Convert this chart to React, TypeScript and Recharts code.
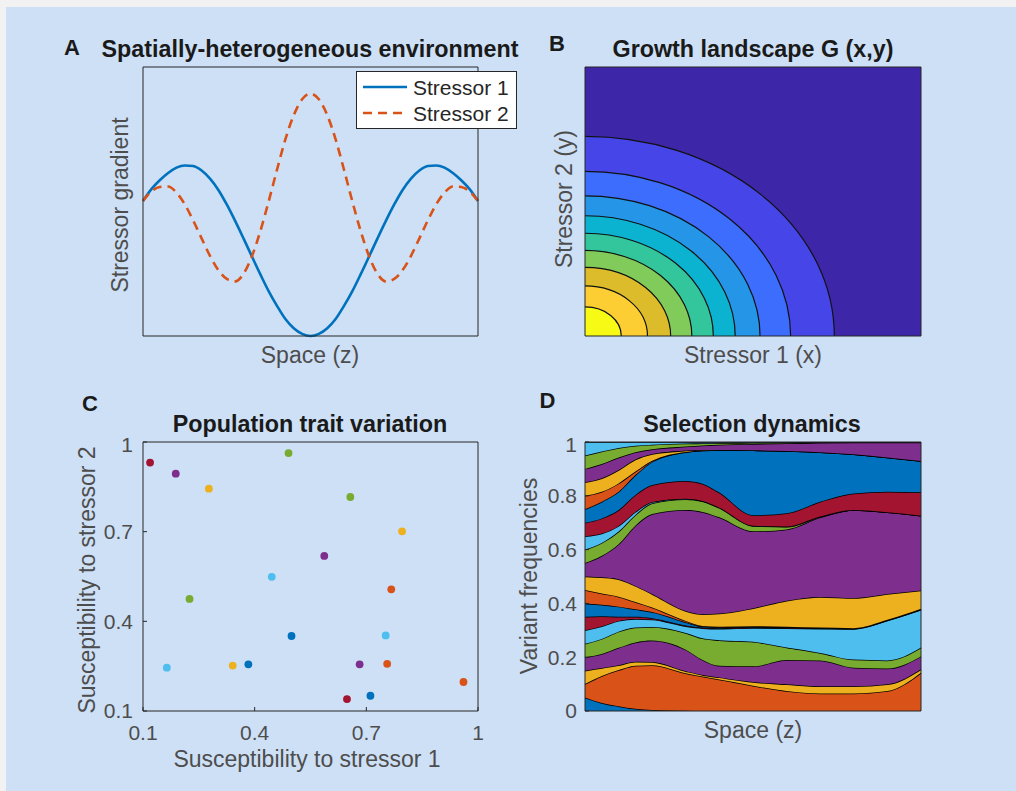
import React from "react";
import {
  LineChart,
  Line,
  AreaChart,
  Area,
  ScatterChart,
  Scatter,
  ComposedChart,
  XAxis,
  YAxis,
  ReferenceArea,
} from "recharts";

// MATLAB default colour order, shared by every panel
const palette = ["#0072BD", "#D95319", "#EDB120", "#7E2F8E", "#77AC30", "#4DBEEE", "#A2142F"];
const FONT = "'Liberation Sans', Arial, Helvetica, sans-serif";
const AXIS = "#262626";
const LABEL = "#4d4d4d";

// ---- A: stressor profiles along space ----
const space = [
  0, 0.025, 0.05, 0.075, 0.1, 0.125, 0.15, 0.175, 0.2, 0.225, 0.25, 0.275, 0.3, 0.325, 0.35, 0.375, 0.4,
  0.425, 0.45, 0.475, 0.5, 0.525, 0.55, 0.575, 0.6, 0.625, 0.65, 0.675, 0.7, 0.725, 0.75, 0.775, 0.8,
  0.825, 0.85, 0.875, 0.9, 0.925, 0.95, 0.975, 1,
];
const stressor1 = [
  0.502, 0.546, 0.579, 0.606, 0.626, 0.634, 0.632, 0.615, 0.585, 0.543, 0.489, 0.428, 0.363, 0.296, 0.23,
  0.167, 0.112, 0.063, 0.029, 0.008, 0.0, 0.008, 0.029, 0.063, 0.112, 0.167, 0.23, 0.296, 0.363, 0.428,
  0.489, 0.543, 0.585, 0.615, 0.632, 0.634, 0.626, 0.606, 0.579, 0.546, 0.502,
];
const stressor2 = [
  0.502, 0.537, 0.554, 0.556, 0.533, 0.489, 0.429, 0.363, 0.298, 0.245, 0.212, 0.203, 0.231, 0.296, 0.389,
  0.5, 0.618, 0.731, 0.821, 0.88, 0.901, 0.88, 0.821, 0.731, 0.618, 0.5, 0.389, 0.296, 0.231, 0.203, 0.212,
  0.245, 0.298, 0.363, 0.429, 0.489, 0.533, 0.556, 0.554, 0.537, 0.502,
];
const stressorNames = ["Stressor 1", "Stressor 2"];

// ---- B: growth contour levels (radius in stressor space), outer to inner ----
const contourRadii = [0.742, 0.612, 0.521, 0.447, 0.382, 0.318, 0.255, 0.186, 0.108];
const parula = [
  "#3e26a8", "#4646e8", "#3c6dfd", "#2595e8", "#0bb3d1", "#33c69c", "#81cb5a", "#dcbc2b", "#fcce33", "#f6fa14",
];

// ---- C: susceptibility of each variant to both stressors ----
const traitVariant = [7, 4, 3, 5, 12, 10, 11, 6, 2, 19, 1, 13, 20, 17, 8, 18, 9, 16, 14, 15];
const traitS1 = [
  0.119, 0.188, 0.277, 0.491, 0.657, 0.796, 0.587, 0.446, 0.767, 0.225, 0.499, 0.752, 0.164, 0.341, 0.383,
  0.682, 0.756, 0.961, 0.648, 0.711,
];
const traitS2 = [
  0.931, 0.894, 0.844, 0.963, 0.816, 0.701, 0.619, 0.549, 0.507, 0.475, 0.351, 0.353, 0.245, 0.252, 0.256,
  0.256, 0.258, 0.197, 0.14, 0.151,
];

// ---- D: variant frequencies along space (one list per variant, bottom to top) ----
const selZ = [0, 0.05, 0.1, 0.15, 0.2, 0.3, 0.35, 0.4, 0.5, 0.6, 0.7, 0.8, 0.9, 1];
const variantFreqs = [
  [0.05, 0.03, 0.018, 0.008, 0.004, 0.001, 0, 0, 0, 0, 0, 0, 0, 0],
  [0.05, 0.1, 0.134, 0.16, 0.166, 0.139, 0.128, 0.117, 0.094, 0.074, 0.065, 0.065, 0.074, 0.142],
  [0.05, 0.03, 0.018, 0.015, 0.012, 0.008, 0.006, 0.008, 0.014, 0.025, 0.027, 0.027, 0.025, 0.013],
  [0.05, 0.052, 0.065, 0.072, 0.08, 0.08, 0.056, 0.043, 0.058, 0.091, 0.096, 0.069, 0.059, 0.048],
  [0.05, 0.056, 0.06, 0.055, 0.05, 0.062, 0.08, 0.095, 0.091, 0.046, 0.028, 0.03, 0.03, 0.033],
  [0.05, 0.047, 0.04, 0.032, 0.028, 0.025, 0.038, 0.043, 0.052, 0.072, 0.09, 0.114, 0.148, 0.14],
  [0.05, 0.037, 0.015, 0.008, 0.005, 0.003, 0.002, 0.002, 0.002, 0.002, 0.002, 0.001, 0.001, 0.001],
  [0.05, 0.043, 0.038, 0.028, 0.023, 0.012, 0.004, 0.003, 0.002, 0.002, 0.001, 0.001, 0.001, 0.001],
  [0.05, 0.042, 0.037, 0.027, 0.017, 0.005, 0.002, 0.002, 0.002, 0.001, 0.001, 0.001, 0.001, 0.002],
  [0.05, 0.06, 0.065, 0.06, 0.05, 0.037, 0.044, 0.049, 0.067, 0.097, 0.114, 0.112, 0.096, 0.068],
  [0.05, 0.08, 0.13, 0.224, 0.297, 0.375, 0.38, 0.358, 0.286, 0.265, 0.296, 0.327, 0.304, 0.278],
  [0.05, 0.048, 0.047, 0.04, 0.04, 0.04, 0.04, 0.035, 0.02, 0.01, 0.002, 0, 0, 0],
  [0.05, 0.035, 0.021, 0.011, 0.005, 0.002, 0.001, 0.001, 0.001, 0.001, 0.001, 0, 0, 0],
  [0.05, 0.056, 0.059, 0.063, 0.063, 0.066, 0.064, 0.056, 0.039, 0.049, 0.055, 0.062, 0.076, 0.087],
  [0.05, 0.062, 0.068, 0.074, 0.087, 0.107, 0.123, 0.158, 0.241, 0.232, 0.184, 0.145, 0.127, 0.116],
  [0.05, 0.037, 0.031, 0.013, 0.003, 0.001, 0, 0, 0, 0, 0, 0, 0, 0],
  [0.05, 0.05, 0.05, 0.045, 0.025, 0.005, 0.002, 0, 0, 0, 0, 0, 0, 0],
  [0.05, 0.053, 0.046, 0.027, 0.018, 0.015, 0.017, 0.02, 0.024, 0.028, 0.035, 0.044, 0.056, 0.069],
  [0.05, 0.047, 0.036, 0.024, 0.017, 0.011, 0.008, 0.006, 0.004, 0.003, 0.002, 0.001, 0.001, 0.001],
  [0.05, 0.035, 0.022, 0.014, 0.01, 0.006, 0.005, 0.004, 0.003, 0.002, 0.001, 0.001, 0.001, 0.001],
];
const freqTicks = [0, 0.2, 0.4, 0.6, 0.8, 1];
const traitTicks = [0.1, 0.4, 0.7, 1];

// rows for the charts
const envRows = space.map((z, i) => ({ z, s1: stressor1[i], s2: stressor2[i] }));
const traitRows = traitS1.map((x, i) => ({ x, y: traitS2[i], variant: traitVariant[i] }));
const selRows = selZ.map((z, i) => {
  const row: Record<string, number> = { z };
  variantFreqs.forEach((f, k) => {
    row[`v${k + 1}`] = f[i];
  });
  return row;
});

const variantColor = (v: number) => palette[(v - 1) % palette.length];

// chart frame: 60px left axis, 40px bottom axis, 10px top/right mirror axes
const NO_MARGIN = { top: 0, right: 0, bottom: 0, left: 0 };
const axisLine = { stroke: AXIS, strokeWidth: 1 };
const tickText = { fill: LABEL, fontSize: 21, fontFamily: FONT };

function EnvironmentChart() {
  return (
    <LineChart width={405} height={319} data={envRows} margin={NO_MARGIN}>
      <Line dataKey="s1" type="monotone" stroke={palette[0]} strokeWidth={2.6} dot={false} isAnimationActive={false} />
      <Line
        dataKey="s2"
        type="monotone"
        stroke={palette[1]}
        strokeWidth={2.6}
        strokeDasharray="9 6"
        dot={false}
        isAnimationActive={false}
      />
      <XAxis dataKey="z" type="number" domain={[0, 1]} height={40} tick={false} tickLine={false} axisLine={axisLine} />
      <YAxis type="number" domain={[0, 1]} width={60} tick={false} tickLine={false} axisLine={axisLine} />
      <XAxis xAxisId="top" orientation="top" type="number" domain={[0, 1]} height={10} tick={false} tickLine={false} axisLine={axisLine} />
      <YAxis yAxisId="right" orientation="right" type="number" domain={[0, 1]} width={10} tick={false} tickLine={false} axisLine={axisLine} />
    </LineChart>
  );
}

// filled quarter ellipse anchored at the lower-left corner of the area's rect
const QuarterBand = (props: any) => {
  const { x, y, width, height, fill } = props;
  const oy = y + height;
  return (
    <g>
      <path d={`M${x},${oy} L${x + width},${oy} A${width},${height} 0 0 0 ${x},${y} Z`} fill={fill} stroke="none" />
      <path d={`M${x + width},${oy} A${width},${height} 0 0 0 ${x},${y}`} fill="none" stroke="#111" strokeWidth={1.2} />
    </g>
  );
};

function LandscapeChart() {
  return (
    <ComposedChart width={406} height={319} data={[]} margin={NO_MARGIN}>
      <XAxis type="number" dataKey="x" domain={[0, 1]} height={40} tick={false} tickLine={false} axisLine={axisLine} allowDataOverflow />
      <YAxis type="number" dataKey="y" domain={[0, 1]} width={60} tick={false} tickLine={false} axisLine={axisLine} allowDataOverflow />
      <ReferenceArea x1={0} x2={1} y1={0} y2={1} fill={parula[0]} fillOpacity={1} stroke="none" />
      {contourRadii.map((r, i) => (
        <ReferenceArea key={r} x1={0} x2={r} y1={0} y2={r} fill={parula[i + 1]} fillOpacity={1} shape={QuarterBand} />
      ))}
      <XAxis xAxisId="top" orientation="top" type="number" domain={[0, 1]} height={10} tick={false} tickLine={false} axisLine={axisLine} />
      <YAxis yAxisId="right" orientation="right" type="number" domain={[0, 1]} width={10} tick={false} tickLine={false} axisLine={axisLine} />
    </ComposedChart>
  );
}

const TraitDot = (props: any) => (
  <circle cx={props.cx} cy={props.cy} r={3.9} fill={variantColor(props.payload.variant)} />
);

function TraitChart() {
  return (
    <ScatterChart width={405} height={319} margin={NO_MARGIN}>
      <Scatter data={traitRows} dataKey="y" shape={TraitDot} isAnimationActive={false} />
      <XAxis
        dataKey="x"
        type="number"
        domain={[0.1, 1]}
        ticks={traitTicks}
        height={40}
        tickSize={-4}
        tickMargin={18}
        tick={tickText}
        tickLine={{ stroke: AXIS }}
        axisLine={axisLine}
        allowDataOverflow
      />
      <YAxis
        dataKey="y"
        type="number"
        domain={[0.1, 1]}
        ticks={traitTicks}
        width={60}
        tickSize={-4}
        tickMargin={14}
        tick={tickText}
        tickLine={{ stroke: AXIS }}
        axisLine={axisLine}
        allowDataOverflow
      />
      <XAxis xAxisId="top" orientation="top" type="number" domain={[0.1, 1]} ticks={traitTicks} height={10} tickSize={-4} tick={false} tickLine={{ stroke: AXIS }} axisLine={axisLine} />
      <YAxis yAxisId="right" orientation="right" type="number" domain={[0.1, 1]} ticks={traitTicks} width={10} tickSize={-4} tick={false} tickLine={{ stroke: AXIS }} axisLine={axisLine} />
    </ScatterChart>
  );
}

function SelectionChart() {
  return (
    <AreaChart width={406} height={319} data={selRows} margin={NO_MARGIN}>
      {variantFreqs.map((_, k) => (
        <Area
          key={k}
          dataKey={`v${k + 1}`}
          stackId="freq"
          type="monotone"
          fill={variantColor(k + 1)}
          fillOpacity={1}
          stroke="#000"
          strokeWidth={1.5}
          dot={false}
          activeDot={false}
          isAnimationActive={false}
        />
      ))}
      <XAxis dataKey="z" type="number" domain={[0, 1]} height={40} tick={false} tickLine={false} axisLine={axisLine} />
      <YAxis
        type="number"
        domain={[0, 1]}
        ticks={freqTicks}
        width={60}
        tickSize={-4}
        tickMargin={12}
        tick={tickText}
        tickLine={{ stroke: AXIS }}
        axisLine={axisLine}
        allowDataOverflow
      />
      <XAxis xAxisId="top" orientation="top" type="number" domain={[0, 1]} height={10} tick={false} tickLine={false} axisLine={axisLine} />
      <YAxis yAxisId="right" orientation="right" type="number" domain={[0, 1]} ticks={freqTicks} width={10} tickSize={-4} tick={false} tickLine={{ stroke: AXIS }} axisLine={axisLine} />
    </AreaChart>
  );
}

const titleStyle: React.CSSProperties = { fontFamily: FONT, fontWeight: 700, fontSize: 23.3, fill: "#1a1a1a" };
const letterStyle: React.CSSProperties = { fontFamily: FONT, fontWeight: 700, fontSize: 22, fill: "#1a1a1a" };
const labelStyle: React.CSSProperties = { fontFamily: FONT, fontSize: 23, fill: LABEL };

function YLabel({ x, y, text }: { x: number; y: number; text: string }) {
  return (
    <text transform={`translate(${x},${y}) rotate(-90)`} textAnchor="middle" style={labelStyle}>
      {text}
    </text>
  );
}

export default function App() {
  return (
    <div
      style={{
        position: "absolute",
        left: 0,
        top: 0,
        width: 1016,
        height: 791,
        background: "#f2f2f2",
        overflow: "hidden",
      }}
    >
      <div style={{ position: "absolute", left: 6, top: 7, right: 0, bottom: 0, background: "#cde0f6" }} />

      <div style={{ position: "absolute", left: 82.5, top: 56.5 }}>
        <EnvironmentChart />
      </div>
      <div style={{ position: "absolute", left: 524.5, top: 56.5 }}>
        <LandscapeChart />
      </div>
      <div style={{ position: "absolute", left: 82.5, top: 431.5 }}>
        <TraitChart />
      </div>
      <div style={{ position: "absolute", left: 524.5, top: 431.5 }}>
        <SelectionChart />
      </div>

      <svg width={1016} height={791} style={{ position: "absolute", left: 0, top: 0, pointerEvents: "none" }}>
        {/* panel letters and titles */}
        <text x={72} y={54.5} textAnchor="middle" style={letterStyle}>A</text>
        <text x={557} y={50.5} textAnchor="middle" style={letterStyle}>B</text>
        <text x={90} y={411} textAnchor="middle" style={letterStyle}>C</text>
        <text x={547.5} y={408} textAnchor="middle" style={letterStyle}>D</text>
        <text x={310} y={56.5} textAnchor="middle" style={titleStyle}>Spatially-heterogeneous environment</text>
        <text x={753} y={56.5} textAnchor="middle" style={titleStyle}>Growth landscape G (x,y)</text>
        <text x={310} y={432} textAnchor="middle" style={titleStyle}>Population trait variation</text>
        <text x={752} y={432} textAnchor="middle" style={titleStyle}>Selection dynamics</text>

        {/* axis labels */}
        <text x={310} y={363} textAnchor="middle" style={labelStyle}>Space (z)</text>
        <YLabel x={128} y={205} text="Stressor gradient" />
        <text x={753} y={363} textAnchor="middle" style={labelStyle}>Stressor 1 (x)</text>
        <YLabel x={571.5} y={199} text="Stressor 2 (y)" />
        <text x={307} y={766.5} textAnchor="middle" style={labelStyle}>Susceptibility to stressor 1</text>
        <YLabel x={95} y={580} text="Susceptibility to stressor 2" />
        <text x={753} y={738} textAnchor="middle" style={labelStyle}>Space (z)</text>
        <YLabel x={536.5} y={576} text="Variant frequencies" />

        {/* legend of panel A */}
        <rect x={356.5} y={71.5} width={160} height={57} fill="#fff" stroke={AXIS} strokeWidth={1} />
        {stressorNames.map((name, i) => (
          <g key={name}>
            <line
              x1={363}
              x2={407}
              y1={87 + i * 26}
              y2={87 + i * 26}
              stroke={palette[i]}
              strokeWidth={2.6}
              strokeDasharray={i === 1 ? "9 6" : undefined}
            />
            <text x={413} y={94.5 + i * 26} style={{ fontFamily: FONT, fontSize: 21, fill: "#262626" }}>
              {name}
            </text>
          </g>
        ))}
      </svg>
    </div>
  );
}
